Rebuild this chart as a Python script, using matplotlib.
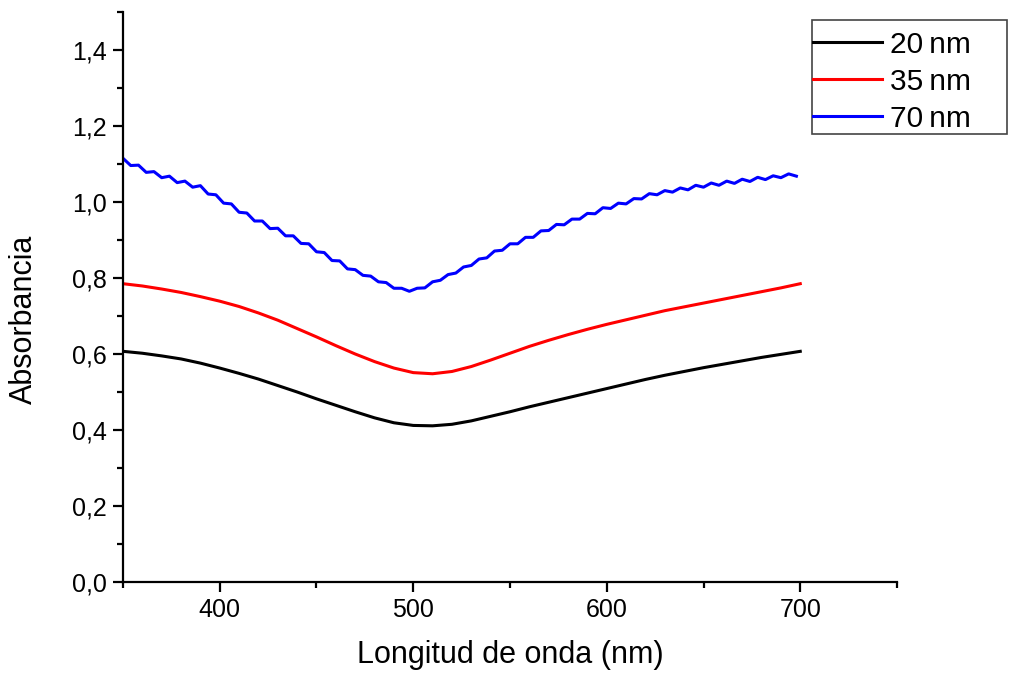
import matplotlib
matplotlib.use('Agg')
import matplotlib.pyplot as plt
import numpy as np
from matplotlib.patches import Rectangle
from matplotlib.ticker import FuncFormatter, MultipleLocator

plt.rcParams['font.family'] = ['Liberation Sans', 'DejaVu Sans']

# black (20 nm) and red (35 nm): read every 10 nm
wl_smooth = np.arange(350, 701, 10)
abs_20 = [0.607, 0.602, 0.595, 0.587, 0.576, 0.563, 0.549, 0.534, 0.517, 0.500,
          0.482, 0.465, 0.448, 0.432, 0.419, 0.412, 0.411, 0.415, 0.424, 0.436,
          0.448, 0.461, 0.473, 0.485, 0.497, 0.509, 0.521, 0.533, 0.544, 0.554,
          0.564, 0.573, 0.582, 0.591, 0.599, 0.607]
abs_35 = [0.785, 0.779, 0.771, 0.762, 0.751, 0.739, 0.725, 0.708, 0.689, 0.667,
          0.645, 0.622, 0.600, 0.580, 0.563, 0.551, 0.548, 0.554, 0.567, 0.584,
          0.602, 0.620, 0.636, 0.651, 0.665, 0.678, 0.690, 0.702, 0.714, 0.724,
          0.734, 0.744, 0.754, 0.764, 0.774, 0.785]

# blue (70 nm): noisy curve, read every 4 nm
wl_70 = np.arange(350, 700, 4)
abs_70 = [1.115, 1.096, 1.097, 1.078, 1.080, 1.064, 1.068, 1.051, 1.055, 1.039,
          1.043, 1.021, 1.019, 0.997, 0.995, 0.973, 0.971, 0.950, 0.950, 0.930,
          0.931, 0.911, 0.911, 0.891, 0.890, 0.869, 0.867, 0.846, 0.845, 0.824,
          0.822, 0.807, 0.805, 0.790, 0.788, 0.773, 0.773, 0.765, 0.773, 0.774,
          0.790, 0.794, 0.809, 0.813, 0.829, 0.833, 0.850, 0.853, 0.871, 0.873,
          0.890, 0.890, 0.907, 0.907, 0.924, 0.925, 0.941, 0.940, 0.955, 0.955,
          0.970, 0.969, 0.985, 0.983, 0.997, 0.995, 1.009, 1.008, 1.022, 1.019,
          1.030, 1.026, 1.037, 1.032, 1.044, 1.039, 1.050, 1.044, 1.055, 1.049,
          1.060, 1.054, 1.065, 1.059, 1.069, 1.064, 1.074, 1.068]

labels = ['20\u2009nm', '35\u2009nm', '70\u2009nm']

fig = plt.figure(figsize=(10.09, 6.75), dpi=100)
ax = fig.add_axes([0.1219, 0.1378, 0.7671, 0.8444])

ax.plot(wl_smooth, abs_20, color='black', lw=2.2, label=labels[0])
ax.plot(wl_smooth, abs_35, color='red', lw=2.2, label=labels[1])
ax.plot(wl_70, abs_70, color='blue', lw=2.2, label=labels[2])

ax.set_xlim(350, 750)
ax.set_ylim(0, 1.5)
ax.xaxis.set_major_locator(MultipleLocator(100))
ax.xaxis.set_minor_locator(MultipleLocator(50))
ax.yaxis.set_major_locator(MultipleLocator(0.2))
ax.yaxis.set_minor_locator(MultipleLocator(0.1))
ax.xaxis.set_major_formatter(FuncFormatter(lambda v, p: '%d' % v if v != 350 else ''))
ax.yaxis.set_major_formatter(FuncFormatter(lambda v, p: ('%.1f' % v).replace('.', ',')))

for s in ['top', 'right']:
    ax.spines[s].set_visible(False)
for s in ['left', 'bottom']:
    ax.spines[s].set_linewidth(1.6)

ax.tick_params(which='major', direction='out', length=7.5, width=1.6, labelsize=18, pad=4)
ax.tick_params(which='minor', direction='out', length=4.5, width=1.6)

ax.set_xlabel('Longitud de onda (nm)', fontsize=22, labelpad=13)
ax.set_ylabel('Absorbancia', fontsize=22)
ax.yaxis.set_label_coords(-0.109, 0.46)

# legend without frame, box drawn separately (wider on the right, like the original)
leg = fig.legend(loc='upper left', bbox_to_anchor=(0.8058, 0.9546), fontsize=21.5,
                 frameon=False, borderaxespad=0, handlelength=2.3,
                 handletextpad=0.27, labelspacing=0.3, borderpad=0)
fig.patches.append(Rectangle((0.8048, 0.8015), 0.1933, 0.1689, transform=fig.transFigure,
                             fill=False, edgecolor='#444444', linewidth=1.2))

fig.savefig('out.png', dpi=100)
